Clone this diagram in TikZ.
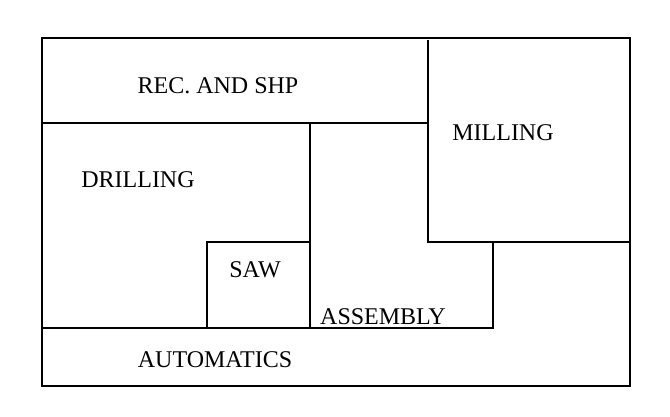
\documentclass[tikz,border=0pt]{standalone}
\usepackage{fontspec}
\setmainfont{Liberation Serif}
\begin{document}
\begin{tikzpicture}[x=1pt,y=-1pt,line width=2.4pt,
  lbl/.style={font=\fontsize{24}{26}\selectfont,inner sep=0pt}]
\useasboundingbox (0,0) rectangle (670,417);
\draw (42,38) rectangle (630,386);
\draw (42,123) -- (428,123);
\draw (428,40) -- (428,242) -- (630,242);
\draw (310,123) -- (310,328);
\draw (207,328) -- (207,242) -- (310,242);
\draw (42,328) -- (493,328) -- (493,242);
\node[lbl] (rec) at (218,86) {REC. AND SHP};
\node[lbl] (mil) at (503,133) {MILLING};
\node[lbl] (dri) at (138,180) {DRILLING};
\node[lbl] (saw) at (255,270) {SAW};
\node[lbl] (asm) at (383,317) {ASSEMBLY};
\node[lbl] (aut) at (215,360) {AUTOMATICS};
\end{tikzpicture}
\end{document}
